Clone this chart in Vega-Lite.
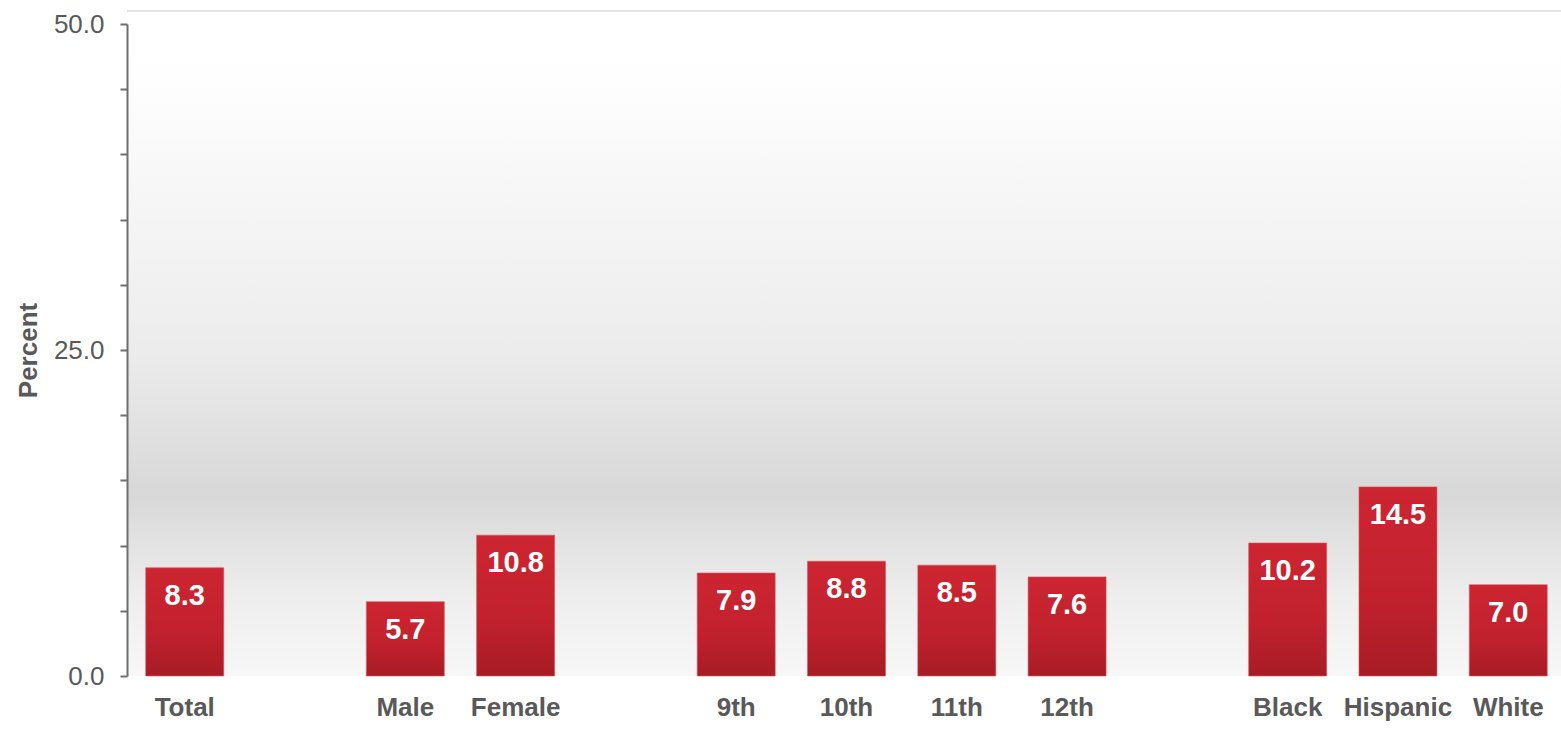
{
  "$schema": "https://vega.github.io/schema/vega-lite/v6.json",
  "autosize": {"type": "none"},
  "width": 1439,
  "height": 652,
  "padding": {"left": 127, "top": 24, "right": 0, "bottom": 67},
  "background": "#ffffff",
  "config": {
    "font": "Liberation Sans",
    "view": {
      "stroke": null,
      "fill": {
        "gradient": "linear", "x1": 0, "y1": 0, "x2": 0, "y2": 1,
        "stops": [
          {"offset": 0, "color": "#ffffff"},
          {"offset": 0.08, "color": "#fefefe"},
          {"offset": 0.5, "color": "#ececec"},
          {"offset": 0.72, "color": "#d8d8d8"},
          {"offset": 0.75, "color": "#dcdcdc"},
          {"offset": 0.88, "color": "#eeeeee"},
          {"offset": 1, "color": "#f7f7f7"}
        ]
      }
    }
  },
  "data": {
    "values": [
      {"group": "Total", "value": 8.3},
      {"group": "Male", "value": 5.7},
      {"group": "Female", "value": 10.8},
      {"group": "9th", "value": 7.9},
      {"group": "10th", "value": 8.8},
      {"group": "11th", "value": 8.5},
      {"group": "12th", "value": 7.6},
      {"group": "Black", "value": 10.2},
      {"group": "Hispanic", "value": 14.5},
      {"group": "White", "value": 7.0}
    ]
  },
  "encoding": {
    "x": {
      "field": "group", "type": "nominal", "sort": null,
      "scale": {
        "domain": ["Total", " ", "Male", "Female", "  ", "9th", "10th", "11th", "12th", "   ", "Black", "Hispanic", "White"],
        "paddingInner": 0.293, "paddingOuter": 0.17
      },
      "axis": {
        "title": null, "labelAngle": 0, "ticks": false, "domain": false,
        "labelFont": "Liberation Sans", "labelFontSize": 26, "labelFontWeight": "bold",
        "labelColor": "#595959", "labelPadding": 18, "labelBaseline": "top"
      }
    },
    "y": {
      "field": "value", "type": "quantitative",
      "scale": {"domain": [0, 50]},
      "axis": {
        "title": "Percent", "titleFont": "Liberation Sans", "titleFontSize": 26, "titleFontWeight": "bold",
        "titleColor": "#595959", "titlePadding": 12,
        "values": [0, 5, 10, 15, 20, 25, 30, 35, 40, 45, 50],
        "labelExpr": "datum.value % 25 == 0 ? format(datum.value, '.1f') : ''",
        "labelFont": "Liberation Sans", "labelFontSize": 26, "labelColor": "#595959",
        "labelPadding": 16, "tickSize": 7, "tickColor": "#6e6e6e", "domainColor": "#6e6e6e",
        "domainWidth": 2, "tickWidth": 2, "grid": false
      }
    }
  },
  "layer": [
    {
      "mark": {
        "type": "bar",
        "color": {
          "gradient": "linear", "x1": 0, "y1": 0, "x2": 0, "y2": 1,
          "stops": [
            {"offset": 0, "color": "#cd2532"},
            {"offset": 0.6, "color": "#c0212d"},
            {"offset": 1, "color": "#a71c25"}
          ]
        },
        "stroke": "#d9545d", "strokeWidth": 0.6
      }
    },
    {
      "mark": {
        "type": "text", "color": "#ffffff", "font": "Liberation Sans",
        "fontSize": 29, "fontWeight": "bold", "baseline": "middle", "dy": 28
      },
      "encoding": {"text": {"field": "value", "type": "quantitative", "format": ".1f"}}
    },
    {
      "data": {"values": [{"top": 51}]},
      "mark": {"type": "rule", "color": "#d9d9d9", "strokeWidth": 1.5},
      "encoding": {"y": {"field": "top", "type": "quantitative"}, "x": null}
    }
  ]
}
